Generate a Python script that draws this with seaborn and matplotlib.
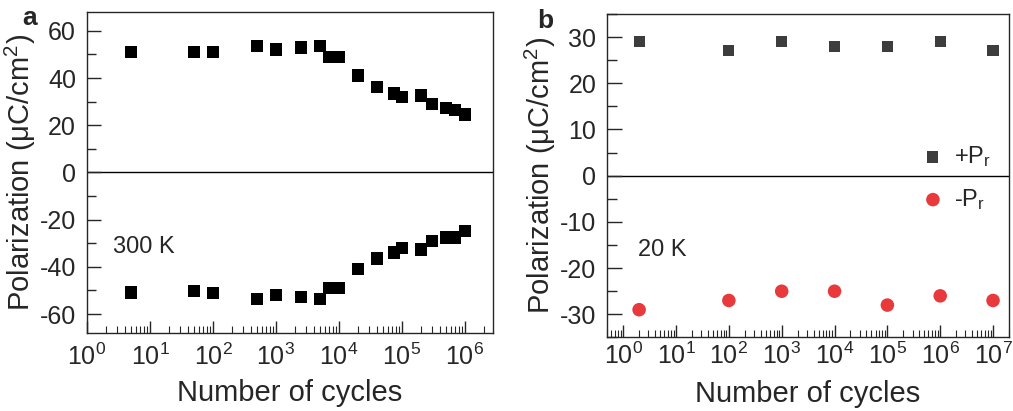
import numpy as np
import pandas as pd
import seaborn as sns
import matplotlib.pyplot as plt
from matplotlib.ticker import LogLocator, MultipleLocator, NullFormatter

# panel a: 300 K fatigue
cycles_a = [5, 50, 100, 500, 1000, 2500, 5000, 7000, 1e4, 2e4, 4e4, 7.5e4, 1e5,
            2e5, 3e5, 5e5, 7e5, 1e6]
pos_a = [51, 51, 51, 53.5, 52, 53, 53.5, 49, 49, 41, 36.3, 33.5, 32, 32.5, 29,
         27.4, 26.4, 24.5]
neg_a = [-50.8, -50.2, -51, -53.7, -52, -52.7, -53.7, -49, -49, -41, -36.5,
         -34, -32, -32.6, -29, -27.5, -27.5, -24.7]

# panel b: 20 K
cycles_b = [2, 100, 1e3, 1e4, 1e5, 1e6, 1e7]
pos_b = [29, 27, 29, 28, 28, 29, 27]
neg_b = [-29, -27, -25, -25, -28, -26, -27]

sns.set_style("ticks")
plt.rcParams['font.family'] = ['Liberation Sans', 'DejaVu Sans']
plt.rcParams['mathtext.fontset'] = 'custom'
plt.rcParams['mathtext.rm'] = 'Liberation Sans'
plt.rcParams['mathtext.it'] = 'Liberation Sans'
plt.rcParams['axes.linewidth'] = 1.0
plt.rcParams['axes.unicode_minus'] = False

dfa = pd.DataFrame({'cycles': cycles_a * 2, 'P': pos_a + neg_a})
dfb_pos = pd.DataFrame({'cycles': cycles_b, 'P': pos_b})
dfb_neg = pd.DataFrame({'cycles': cycles_b, 'P': neg_b})

fig = plt.figure(figsize=(10.13, 4.11), dpi=100)
ax1 = fig.add_axes([0.0859, 0.190, 0.4008, 0.781])
ax2 = fig.add_axes([0.5995, 0.179, 0.3965, 0.787])

sns.scatterplot(data=dfa, x='cycles', y='P', ax=ax1, marker='s', s=80,
                color='black', edgecolor='none', linewidth=0)
sns.scatterplot(data=dfb_pos, x='cycles', y='P', ax=ax2, marker='s', s=64,
                color='#3d3d3d', edgecolor='none', linewidth=0, label='+P$_r$')
sns.scatterplot(data=dfb_neg, x='cycles', y='P', ax=ax2, marker='o', s=95,
                color='#e8393c', edgecolor='none', linewidth=0, label='-P$_r$')

for ax in (ax1, ax2):
    ax.set_xscale('log')
    ax.axhline(0, color='black', lw=1.0, zorder=0)
    ax.xaxis.set_major_locator(LogLocator(base=10, numticks=20))
    ax.xaxis.set_minor_locator(LogLocator(base=10, subs=np.arange(2, 10), numticks=20))
    ax.xaxis.set_minor_formatter(NullFormatter())
    ax.tick_params(axis='x', which='major', direction='in', length=9, width=1,
                   labelsize=18, pad=8)
    ax.tick_params(axis='x', which='minor', direction='in', length=5, width=0.8)
    ax.tick_params(axis='y', which='major', direction='in', length=10, width=1,
                   labelsize=18, pad=8)
    ax.tick_params(axis='y', which='minor', direction='in', length=6.5, width=1)
    ax.set_xlabel('Number of cycles', fontsize=21)
    ax.set_ylabel('Polarization (μC/cm$^2$)', fontsize=21)
    for sp in ax.spines.values():
        sp.set_visible(True)
        sp.set_linewidth(1.0)

ax1.set_xlim(1, 2.8e6)
ax1.set_ylim(-68, 68)
ax1.yaxis.set_major_locator(MultipleLocator(20))
ax1.yaxis.set_minor_locator(MultipleLocator(10))
ax1.yaxis.labelpad = 1
ax1.xaxis.labelpad = 6
ax1.text(2.6, -31.6, '300 K', fontsize=17, va='center', ha='left')

ax2.set_xlim(0.5, 2e7)
ax2.set_ylim(-35, 35)
ax2.yaxis.set_major_locator(MultipleLocator(10))
ax2.yaxis.set_minor_locator(MultipleLocator(5))
ax2.tick_params(axis='x', which='major', pad=4)
ax2.tick_params(axis='y', which='major', length=11)
ax2.tick_params(axis='y', which='minor', length=7)
ax2.yaxis.labelpad = 1
ax2.xaxis.labelpad = 8
ax2.text(1.9, -16, '20 K', fontsize=17, va='center', ha='left')
ax2.legend(loc='center right', bbox_to_anchor=(1.0, 0.493), frameon=False,
           fontsize=17, handletextpad=0.3, handlelength=1.2, labelspacing=0.75,
           borderaxespad=0.35)

fig.text(0.029, 0.955, 'a', fontsize=19, fontweight='bold', va='center', ha='center')
fig.text(0.538, 0.950, 'b', fontsize=19, fontweight='bold', va='center', ha='center')

fig.savefig('out.png', dpi=100)
